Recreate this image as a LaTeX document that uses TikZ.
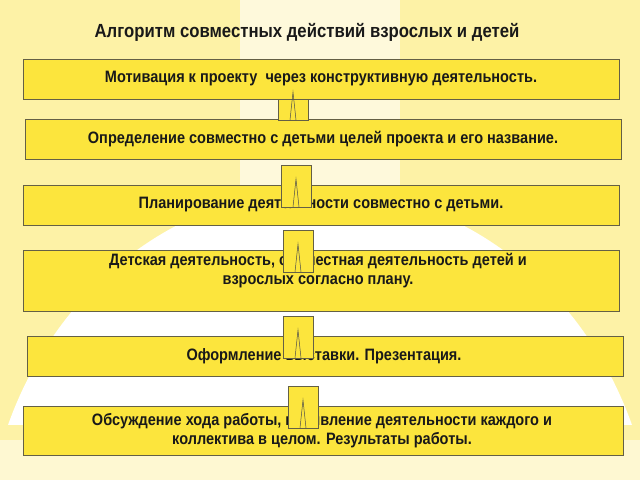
\documentclass[tikz,border=0pt]{standalone}
\usepackage{fontspec}
\setmainfont{Liberation Sans}
\newfontfamily\cf[FakeStretch=0.88]{Liberation Sans}
\begin{document}
\begin{tikzpicture}[x=1pt,y=-1pt,
 box/.style={draw=black!70!yellow,line width=0.6pt,fill=boxy},
 txt/.style={font=\cf\bfseries\fontsize{16.5}{19}\selectfont,text=black!90,align=center},
 sq/.style={draw=black!70!yellow,line width=0.6pt,fill=boxy}]
\definecolor{boxy}{HTML}{FCE53D}
\definecolor{bgy}{HTML}{FDF2A6}
\useasboundingbox (0,0) rectangle (640,480);
\fill[bgy] (0,0) rectangle (640,480);
\fill[white] (320,560) circle [x radius=335pt, y radius=370pt];
\fill[white,opacity=0.6] (240,0) rectangle (400,190);
\fill[bgy] (0,425) rectangle (640,480);
\fill[white,opacity=0.5] (0,440) rectangle (640,480);
\node[font=\cf\bfseries\fontsize{19}{21}\selectfont,text=black!90] (title) at (307,32) {Алгоритм совместных действий взрослых и детей};
\draw[box] (23,59) rectangle (619,99);
\draw[box] (25,119) rectangle (621,159);
\draw[box] (23,185) rectangle (619,225);
\draw[box] (23,250) rectangle (619,311);
\draw[box] (27,336) rectangle (623,376);
\draw[box] (23,406) rectangle (623,455);
\node[txt] (b1) at (321,79) {Мотивация к проекту\ \ через конструктивную деятельность.};
\node[txt] (b2) at (323,139) {Определение совместно с детьми целей проекта и его название.};
\node[txt] (b3) at (321,205) {Планирование деятельности совместно с детьми.};
\node[txt] (b4) at (318,271) {Детская деятельность, совместная деятельность детей и\\взрослых согласно плану.};
\node[txt] (b5) at (324,356) {Оформление выставки. Презентация.};
\node[txt] (b6) at (322,431) {Обсуждение хода работы, проявление деятельности каждого и\\коллектива в целом. Результаты работы.};
\foreach \n/\x/\y/\h in {1/278/99/21,2/281/165/42,3/283/230/42,4/283/316/42,5/288/386/42}{
 \draw[sq] (\x,\y) rectangle ++(30,\h);
 \coordinate (s\n) at (\x+15,\y);
 \draw[line width=0.5pt,black!70] (\x+12,\y+\h) -- (\x+15,\y+\h-28) -- (\x+18,\y+\h);
}
\end{tikzpicture}
\end{document}
